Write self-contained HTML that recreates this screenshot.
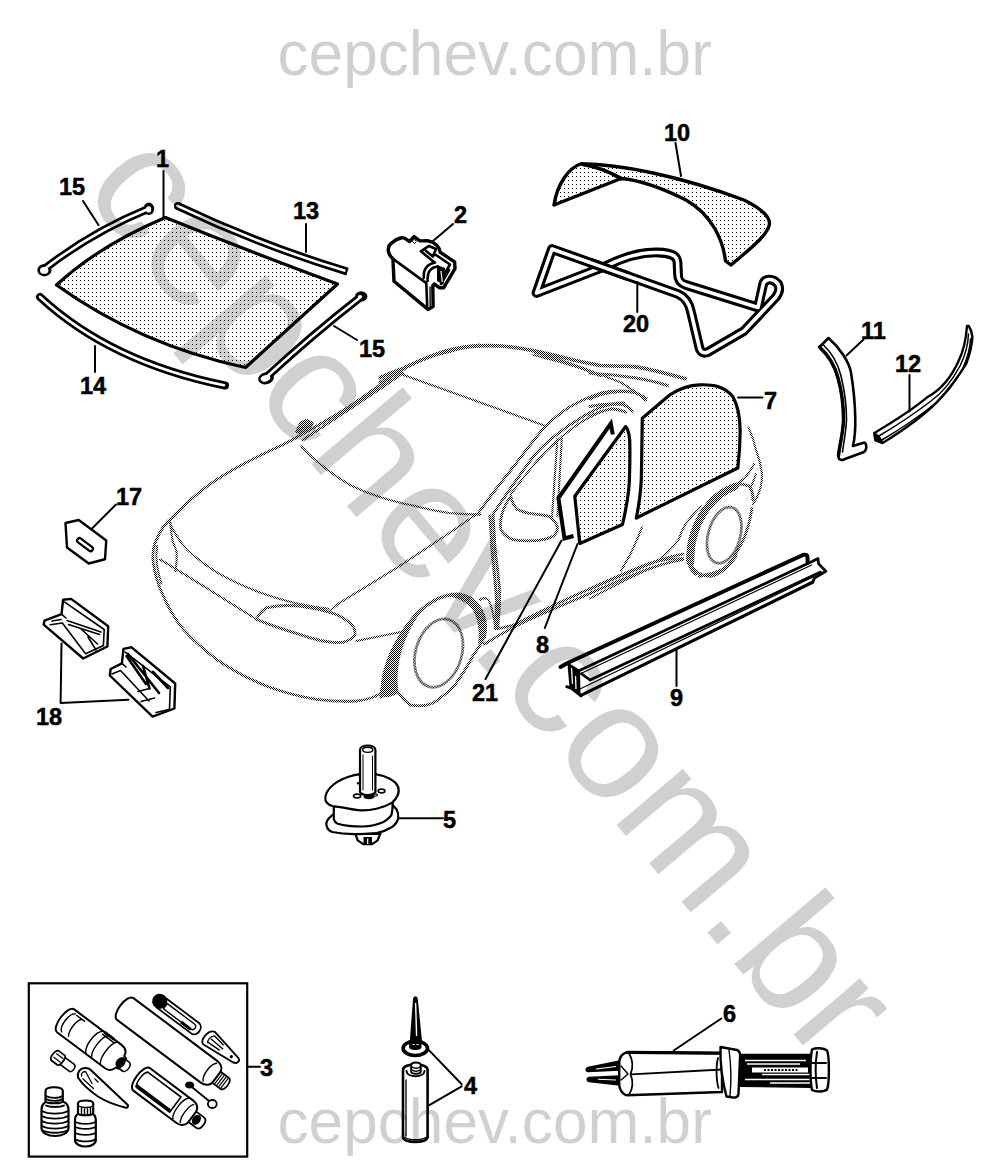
<!DOCTYPE html>
<html><head><meta charset="utf-8"><title>cepchev.com.br</title>
<style>
html,body{margin:0;padding:0;background:#fff;}
body{width:992px;height:1172px;overflow:hidden;position:relative;}
svg{position:absolute;left:0;top:0;display:block;}
.wm{font-family:"Liberation Sans",Arial,sans-serif;fill:#000;fill-opacity:0.184;}
.lb{font-family:"Liberation Sans",Arial,sans-serif;font-weight:bold;font-size:23.5px;fill:#000;stroke:#000;stroke-width:0.5px;}
.k{fill:none;stroke:#000;stroke-linecap:round;stroke-linejoin:round;}
.k.bt{stroke-linecap:butt;}.k.mt{stroke-linejoin:miter;}.k.w{stroke:#fff;}
.g{fill:none;stroke:url(#chk);stroke-width:2.8;stroke-linecap:round;stroke-linejoin:round;}
</style></head><body>
<svg width="992" height="1172" viewBox="0 0 992 1172">
<defs>
<pattern id="dots" width="4" height="4" patternUnits="userSpaceOnUse"><rect x="0" y="0" width="4" height="4" fill="#fff"/><rect x="0" y="0" width="1" height="1" fill="#000"/></pattern>
<pattern id="chk" width="2" height="2" patternUnits="userSpaceOnUse"><rect x="0" y="0" width="1" height="1" fill="#000"/><rect x="1" y="1" width="1" height="1" fill="#000"/></pattern>
</defs>
<!-- PARTS -->
<g id="parts">
<g id="car" class="g">
<!-- front -->
<path d="M155 543 C160 530 166 522 173.3 516.3 C186 503 200 491 216.5 479.7 C238 466 260 455 283 444.8 C305 433 328 420 349.6 406.5 C366 395 383 383 399.5 371.6 C415 362 432 355 449.4 351.6 C460 348 470 346 480 345"/>
<path d="M303 439.8 C336 418 370 396 402.8 373.2"/>
<path d="M296 432 L300 423 L306 419.5 L313 422.5 L309 430 L302 434 Z" fill="url(#chk)" stroke-width="1.82"/>
<path d="M301.4 446.4 C308 454 315 460 323 466.4 C331 473 340 479 349.6 484.7 C360 490 371 494.5 382.9 498 C394 501.5 405 504 416.1 506.3 C427 509 438 511.5 449.4 513 C460 514 470 514.5 480 514.6" stroke-width="2.09"/>
<path d="M402.2 374.4 L544.1 425.4" stroke-width="2.09"/>
<path d="M477 514 C468 520 458 527 449.4 533 C433 544 416 555 399.5 566.2 C380 578 359 591 339.6 602.8 L329.6 611" stroke-width="2.09"/>
<path d="M155 543 C152.5 550 152.5 556 153.3 562.9 C155 575 158.5 586 163.3 596 C168.5 608 175 619 183.3 629.4 C193 640 204 650 216.5 659.3 C232 670 249 679 266.4 686 C282 692 299 696.5 316.3 699.3 C330 701 343 701.7 356.3 701 C366 700 375 697.5 381 693"/>
<path d="M169 521 C174 533 180 542 187.2 549.8 C197 559 208 567 218.6 573.4 C231 580.5 244 586.5 258 591.7 C271 596.5 284 600.5 297.3 603.5 C308 605.8 318 607.5 328.7 608.8" stroke-width="2.10"/>
<path d="M160 559.5 C178 570 200 584 218.6 595.7 C232 604 245 612 256.5 619.4" stroke-width="2.10"/>
<path d="M170.1 519.7 C170.5 528 171.5 535 172.8 541.9 C174.5 546 176 549 176.7 552.4 C177 559 176.5 565 175.4 570.8 M157 546 C155.5 556 157 570 161.5 584" stroke-width="2.10"/>
<path d="M256.5 619.4 C259 614 262 610.5 266.4 607.8 C277 605.5 288 605 299.7 606 C312 607.5 325 610.5 336.3 614.4 C343 617.5 349 621.5 352.9 626 C355 629.5 355.5 633 354.6 636 C350 640.5 344 643 336.3 642.7 C324 642 311 638.5 299.7 634.4 C285 630 270 625 256.5 619.4 Z"/>
<path d="M356.3 641 L401 632" stroke-width="2.09"/>
<!-- front wheel -->
<path d="M381 697 C382 688 383 680 384.4 673 C387 663 390.5 653 395.5 644.2 C401 633.5 407.5 624 415.4 615.4 C422 608.5 429.5 603 437.6 598.8 C445 595.5 452.5 594 459.8 594.3 C467.5 595.5 473.5 599 477.5 604.3 C482 610.5 484.5 617 485.3 624.3 C485.8 629 485.2 633.5 484.2 637.6" stroke-width="3.28"/>
<path d="M381 697 C382 680 388 658 397 642 C405 627 414 616 424 608 C416 618 409 630 404 644 C398 660 396 678 398.8 693 C394 696 388 698 381 697 Z" fill="url(#chk)" stroke="none"/>
<path d="M445 596 C455 593.5 468 595 476 603 C483 611 486 622 484.5 637 L478 645 C480 630 478 618 472 609 C466 601 456 597 445 596 Z" fill="url(#chk)" stroke="none"/>
<path d="M398.8 693 C402 698 406 702.5 411 705.2 C418 706.5 426 706 433.2 703 C441 698 449 691.5 455.4 684.2 C462 675 468 665.5 473.1 655.3 C477.5 650 481 643.5 484.2 637.6"/>
<ellipse cx="438.7" cy="653.1" rx="23" ry="35" transform="rotate(17 438.7 653.1)"/>
<!-- door / pillars -->
<path d="M477.6 514.1 C489 498 501 482 513 467.5 C523 454 533 441 544.1 427.6 C552 420 560 413 568.5 407.6 C578 402 589 397 600 393.2 C610 391 620 390.5 629.7 391.5 C637 393 642 395.5 646.3 398.2"/>
<path d="M493.1 514.1 C507 493 521 473 535.2 454.2 C542 447 549 440 557.4 434.2 C564 428.5 572 423 579.6 418.7 C586 414.5 593 411 600 407.6 C608 404.5 616 403 624 403"/>
<path d="M510.8 494.1 C519 483 527 473 535.2 463.1 C542 455 549.5 447.5 557.4 440.9 C564 434.5 572 428.5 579.6 423.1 C586 419 593 415.5 600 412" stroke-width="2.09"/>
<path d="M557.4 438.7 L551.9 518.5 M561.9 436.5 L557.4 516.3" stroke-width="2.09"/>
<path d="M510.8 496.3 C512 502 514 506.5 517.5 509.6 C523 512.5 529 513.5 535.2 514.1 C540 514.5 544.5 515 548.6 516.3 C553 519 556.5 523 557.4 527.4 C557.5 531 556 534 553 536.3 C548 539 542 540.3 535.2 540.7 C528 541 520 541 513.1 539.6 C507 537.5 503 534 500.9 529.6 C500 524 500.5 519 502 514.1 C504 507 507 501 510.8 496.3 Z"/>
<path d="M493.1 514.1 C494 527 494.5 540 495.3 551.8 C497 564 498.5 577 499.7 589.9 C500 603 499 616 497.5 628.7" />
<path d="M490 516 C491 540 493 565 496 590 C497 603 496.5 616 495.3 628.7" stroke-width="3.09"/>
<path d="M479.8 599.9 C483 597.5 486 597.5 488.6 599.9 C490.5 604 492 608.5 493 613.2 C494 618 494.8 623 495.3 628.7" stroke-width="2.09"/>
<!-- sill -->
<path d="M484.2 644.2 C494 638 504.5 632 515.2 626.5 C526 621 537 616 548.5 611 C559 606.5 569.5 602 580 597.7 C600 589 620 580 640 572 C655 566 670 562 683 559.5"/>
<path d="M497.5 628.7 C503 628 509 626.5 515.2 624.3 C524 620 533 615.5 541.9 611 C554 605 567 599 580 593.2 C600 584 622 574 645 565 C658 560 670 556.5 683 554"/>
<!-- roof -->
<path d="M380 377.7 C387 374.5 394.5 371.5 402.2 368.8 C413 363.5 424 358.5 435.4 354.4 C446 350.5 457 348 468.7 346.6 C480 345.5 491 345.3 502 346 C513 347 524 348.7 535.2 351.1 C546 353.3 557 355.8 568.5 358.8 C579 361.5 590 363.5 600 365.5 C612 366 623 366.3 634.4 366.6 C652 369.5 669 374 685.4 378.8" stroke-width="3.64"/>
<path d="M380 382.1 C387 378.5 394 375 401 372" stroke-width="3.09"/>
<path d="M535.2 352.2 C546 355.5 557 359 568.5 363.3 C579 367 590 371 600 375.5 M590 373.3 C605 374 620 375.5 634.4 377.7 C646 379.5 657 382 667.6 385.5" stroke-width="3.09"/>
<path d="M590 398.8 C597 395.5 604.5 393.5 612.2 392.1 C620 391.3 627 391.3 634.4 392.1 C639 394 642.5 396.5 645.4 399.9 M590 406.5 C600 404 612 403.5 623 404.5 C627 406 630 408 632 411 M590 416.5 C597 412.5 605 410 612 408.7 C617 409.5 622 410.5 625.5 412" stroke-width="3.09"/>
<path d="M533.5 355 C565 363 595 372 621 382.5 L634 391" stroke-width="2.24"/>
<!-- rear -->
<path d="M642.1 527.4 C639 535 635.5 543 632.1 550.7 C628.5 557.5 625 564 621 570.6" stroke-width="2.09"/>
<path d="M700.9 506.3 C695 512 690 518 685.4 524.1 C682.5 529 680.5 534 678.7 539.6 C672 548 665 555 656.5 561.8" stroke-width="2.09"/>
<path d="M590 589.5 C612 580 634 570.5 656.5 561.8 C665 559.5 674 558.5 683.1 558.4 M590 598.4 C608 589 626 579.5 645.4 570.6 L663.2 564" stroke-width="2.09"/>
<path d="M687.6 559.6 C688 552.5 688.5 546 689.8 539.6 C692.5 530 696 521 700.9 513 C706 505 712 498.5 718.6 493 C724 489 730 486 736.4 484.2 C741 483.5 745.5 484.5 749.7 486.4 C752 490 753 494.5 753 499.7" stroke-width="3.09"/>
<path d="M690.5 562 C690 546 694.5 528 702.5 514.5 C710 502 721 492 735 486.5" stroke="url(#chk)" stroke-width="7.70" fill="none"/><path d="M689 560 C690 566 692 570 696 573" stroke="url(#chk)" stroke-width="4.90" fill="none"/>
<path d="M687.6 559.6 C689 564 691.5 568 694.2 570.6 C699.5 574.5 705.5 576.5 712 576.2 C718 574.5 723 571 727.5 566.2 C734.5 557 740.5 546.5 745.2 535.2 C748.5 526.5 750.5 517.5 751.9 508.6"/>
<ellipse cx="724.2" cy="535.2" rx="16" ry="28.8" transform="rotate(15.6 724.2 535.2)"/>
<path d="M748.6 427.6 C752 435 754.5 443 756.3 450.9 C759 458 761 465.5 761.9 473 C762.2 477.5 761.8 482 760.8 486.4 C759 493 756.5 499 753 504.1" stroke-width="2.09"/>
<path d="M754.1 464.2 C751.5 469 748.5 473.5 745.2 477.5 C742.5 480 739.5 482.3 736.4 484.2 M756 474 C754 480 752 485 749.7 489" stroke-width="2.09"/>
<path d="M699.5 576.2 C707 575 715 573 722.8 569.5 C728 566 732.5 561.5 736 556.2" stroke-width="3.09"/>
</g>
<g id="p1">
<!-- windshield 1 -->
<path d="M56.5 285 Q100 245 165.5 217.5 Q250.5 252 337.5 284 L245.5 367.5 Q140 345 56.5 285Z" fill="url(#dots)" stroke="#000" stroke-width="3.2" stroke-linejoin="round"/>
<!-- strip 15 left -->
<path class="k" d="M45 268.5 Q92 232 148 209" stroke-width="8"/>
<ellipse cx="44.4" cy="270.2" rx="7" ry="6.2" fill="#000"/><ellipse cx="148.8" cy="208.8" rx="5.4" ry="6.2" fill="#000"/>
<path class="k w" d="M45 268.5 Q92 232 148 209" stroke-width="2.6"/>
<ellipse cx="44.2" cy="270.4" rx="4.2" ry="3.4" fill="#fff"/><ellipse cx="148.6" cy="209.4" rx="2.6" ry="3.2" fill="#fff"/>
<!-- strip 13 -->
<path class="k bt" d="M177.5 205.8 Q260 245 347.5 271.6" stroke-width="8"/><circle cx="178" cy="206" r="4" fill="#000"/>
<path class="k w" d="M177.5 205.8 Q260 245 344.3 270.6" stroke-width="2.6"/>
<!-- strip 14 -->
<path class="k" d="M40 297 Q110 362 225 385.5" stroke-width="8"/>
<path class="k w" d="M40 297 Q110 362 224 385.3" stroke-width="2.6"/>
<!-- strip 15 right -->
<path class="k" d="M360 297.5 Q312 335 266.5 377" stroke-width="8"/>
<ellipse cx="361.2" cy="296.4" rx="6.2" ry="5.2" fill="#000"/><ellipse cx="266" cy="378.3" rx="8" ry="6" transform="rotate(-15 266 378.3)" fill="#000"/>
<path class="k w" d="M359.5 298 Q312 335 266.5 377" stroke-width="2.4"/>
<ellipse cx="360" cy="296.8" rx="2.2" ry="1.8" fill="#fff"/><ellipse cx="265.5" cy="378.3" rx="5" ry="3.2" transform="rotate(-15 265.5 378.3)" fill="#fff"/>
<!-- leaders -->
<path class="k" stroke-width="2" d="M163.5 171V217 M83 201L98.5 225 M306 224V252 M334 326L357 340 M95 346V372 M453 224L433 241"/>
</g>
<g id="p2">
<!-- clip 2 -->
<path d="M428 309.4 L394 281.3 L392.9 258.6 C387 254 386.5 246 392.7 242.2 C395 240 398 238.3 401.8 237.7 L404.5 238.2 L409.5 241.5 L414 236.6 L420 240.9 L428 240.8 C436 242.5 440.2 248 440 252.2 L454.6 261.8 L455 268.6 L443.6 287.8 L439.6 287.8 L434.2 284 L432.8 285.6 L433.1 306.6 Z" fill="#fff" stroke="#000" stroke-width="3.4" stroke-linejoin="round"/>
<path class="k" stroke-width="2.6" d="M392.7 258.6 L426.3 283.1 L427.2 306 M423.8 278 C423 268 428 264 435 262.5 M427.6 281 C427 272 431 267 438 266.5 M429 245.9 L420.8 251.3 L434.4 262.2 M426 251 L433 256.5 L436 249 L429 246 M436 255 L450 264.5 L442 278 M449 270 L441 284"/>
<path class="k" stroke-width="1.4" d="M430 287 L430.2 306"/>
<path d="M437 265 L445 268 L443.5 285 L437 281 Z" fill="#000"/>
<path d="M441 271 L442.3 282" stroke="#fff" stroke-width="1.2" fill="none"/>
<path d="M414 239.2 L416.4 241.6 L414.5 243.6 L412.2 241.3 Z" fill="#fff" stroke="#000" stroke-width="1"/>
</g>
<g id="p10">
<!-- rear glass 10 -->
<path d="M554 205 C557 185 568 168 581 163.75 C620 164 680 176 744 200 C760 208 770 216 769.5 224 C768 234 755 245 731 265 L725.5 261 C723 240 712 215 686 200 C660 187 640 180 621 178.5 Z" fill="url(#dots)" stroke="#000" stroke-width="3.4" stroke-linejoin="round"/>
<path class="k" stroke-width="3.8" d="M583 164.5 C598 167 610 172 621 178.5"/>
<!-- seal 20 -->
<path id="seal" class="k" stroke-width="9.8" d="M552 249 L536.5 293 L606 266 C620 259 640 252 658 252.5 C672 253 677 256 677.5 262 L678 274 C678 280 680 283 686 285 L758 307.5 L763 285 C764 279 772 277 778 284 C780 288 779 293 776 297 L744 331 L708 352 C703 354 700 352 699 346 L691 312 C689 302 685 297 678 294 Z"/>
<path class="k w" stroke-width="3.6" d="M552 249 L536.5 293 L606 266 C620 259 640 252 658 252.5 C672 253 677 256 677.5 262 L678 274 C678 280 680 283 686 285 L758 307.5 L763 285 C764 279 772 277 778 284 C780 288 779 293 776 297 L744 331 L708 352 C703 354 700 352 699 346 L691 312 C689 302 685 297 678 294 Z"/>
<path class="k bt" stroke-width="9.8" d="M590 262.6 L628 276.2"/>
<path class="k bt w" stroke-width="3.6" d="M588 261.9 L630 276.9"/>
<path class="k" stroke-width="2" d="M675.5 143 L681 176 M637.3 282 V312"/>
</g>
<g id="p11">
<path d="M819.5 347 C828 355 835 366 838 378 C842 392 843.5 405 843.5 420 C843 435 839 447 838.5 456 C838.5 459 840 460.5 843 459.8 L864 452 C867 450 867 444 864.5 442.5 L853 446 C855 437 855.5 428 855.25 418 C855 400 853 385 851 372.5 C849 362 840 348 828.5 338 Z" fill="#fff" stroke="#000" stroke-width="2.6" stroke-linejoin="round"/>
<path class="k" stroke-width="3.4" d="M819.5 347 C828 355 835 366 838 378 C842 392 843.5 405 843.5 420 C843 435 839 447 838.5 456"/>
<path class="k" stroke-width="1.6" d="M823 344.5 C831 352 838 364 841 376 C845 392 846.5 405 846.5 420 C846 432 843.5 444 842.5 452"/>
<!-- 12 -->
<path d="M967 326 C966 340 963 352 958.8 360.4 C951 378 940 390 928 396.7 C912 410 893 422 874.4 433 L875.3 440.2 L882.6 443 C902 431 921 418 937 402.1 C950 388 960 374 966.1 364 C970 354 972 345 972.4 336.8 C972 332 970.5 328.5 968.8 326 Z" fill="#fff" stroke="#000" stroke-width="2.4" stroke-linejoin="round"/>
<path class="k" stroke-width="1.5" d="M968.5 334 C968 346 964 358 960 366 C952 381 942 393 931 401 C914 414 896 426 878 436.5 M970.5 339 C970 349 967 359 963 368 C955 383 945 396 934 404.5 C917 418 899 430 881 440.5"/>
<path d="M874.4 433 L875.3 440.2 L882.6 443 L879.5 437.5 Z" fill="#000" stroke="#000" stroke-width="2" stroke-linejoin="round"/>
<path class="k" stroke-width="2" d="M863.5 339.5 L846.5 355.5 M909.5 375 V411.5"/>
</g>
<g id="p7">
<path d="M642.3 418.2 L669.6 395 C680 388 690 385 699.5 384.8 C708 384.5 713 385 717.8 386.6 C725 389 729 392 732.8 396.5 C738 406 740 418 740.1 430 C740.2 445 739 458 737.8 468 L636.3 518 C640 500 641.5 485 641.5 470 Z" fill="url(#dots)" stroke="#000" stroke-width="3.2" stroke-linejoin="round"/>
<path d="M625.7 426.5 L574.8 496.3 L579.8 543.5 L622.5 524.5 C627 505 629.5 490 629.5 476 C630 460 630 450 629.7 440 C629 433 628 429 625.7 426.5 Z" fill="url(#dots)" stroke="#000" stroke-width="3.2" stroke-linejoin="round"/>
<path class="k bt mt" stroke-width="4" d="M612.8 434.5 L610.8 423.5 L558.4 498 L564.5 538.5 L573.5 536"/>
<path class="k" stroke-width="2" d="M738 397.5 H762.5 M577.5 544 L544.8 628 M561.5 540.5 L485.5 679 M676.5 648 V686"/>
</g>
<g id="p9">
<path d="M568 662.7 L803 555 L807.6 556 V562.5 L812.6 561.3 L818 558.6 L818.5 563.6 L825.8 571.3 L814.4 578.1 L812.6 582.2 L580.9 695.6 L570 687 Z" fill="#fff" stroke="none"/>
<path class="k" stroke-width="4" stroke-linejoin="round" d="M560.5 667 L568 662.7 L803 555 Q807.5 553.5 807.6 558 V562.5"/>
<path class="k" stroke-width="2.8" d="M579.5 670.5 L812.6 561.3 L818 558.6 L818.5 563.6 L825.8 571.3 L814.4 578.1 L812.6 582.2"/>
<path class="k" stroke-width="1.2" d="M581.5 673.2 L811.7 565"/>
<path class="k" stroke-width="2.6" d="M581.3 673.6 L590 680 L820.5 572"/>
<path class="k" stroke-width="1.2" d="M580 689 L814 576.5"/>
<path class="k" stroke-width="3.2" d="M580.9 695.4 L812.6 582.2"/>
<path d="M568.5 664 L579 670.5 L579.5 694.5 L570.5 687.5 Z" fill="#000" stroke="#000" stroke-width="2" stroke-linejoin="round"/>
<path class="k" stroke-width="3" d="M566.8 686.7 L572 688.5 L581 695.8"/>
<path d="M571.5 668 L572.5 684 M575.5 676 L576 689" stroke="#fff" stroke-width="1.3" fill="none"/>
</g>
<g id="p17">
<path d="M65.5 523 L78.75 520 L106.25 540.5 L105 559.25 L88.75 563.5 L67 547.5 Z" fill="#fff" stroke="#000" stroke-width="2.4" stroke-linejoin="round"/>
<path class="k" stroke-width="7" d="M79.5 540.5 L90.5 548.8"/>
<path class="k w" stroke-width="2.6" d="M79.5 540.5 L90.5 548.8"/>
<path class="k" stroke-width="2" d="M116 504.5 L92.5 528"/>
</g>
<g id="p18">
<path d="M63.1 599.7 L71.1 598.9 L108.2 626.3 L107.4 646.5 L83.2 658.5 L43.7 624.7 L44.5 620.6 L61.5 614.2 Z" fill="#fff" stroke="#000" stroke-width="2.4" stroke-linejoin="round"/>
<path class="k" stroke-width="1.6" d="M64.7 602.1 L104.2 629.5 L103.4 645.6 M61.5 614.2 L66 618 M50.2 624.7 L62.3 623 L85.6 653.7 L103.4 645.6 M67 620.5 L101 632 M68.5 624.5 L99.5 634.5 M80 628 L97.5 644 M88 637 L96 650 M52 621 L61 619.5"/>
<path d="M123.5 648.9 L131.6 647.3 L175.2 683.5 L174.4 708.5 L152.6 716.6 L109.8 675.5 L110.6 669 L121.9 663.4 Z" fill="#fff" stroke="#000" stroke-width="2.4" stroke-linejoin="round"/>
<path class="k" stroke-width="1.6" d="M125.2 652.1 L170.3 686.8 L169.5 709.4 M112 674 L120.5 670.5 L149 701 M138 691.5 L149.5 688.5 M141 701.5 L154.5 698 M156 712.5 L169 709.5 M121.9 663.4 L126 667"/>
<path class="k" stroke-width="2.6" d="M128 654 L159 693 M143 666 L149.5 688.5 M126.5 656 L146 684 M153 672 L168 688"/>
<path class="k" stroke-width="2" d="M61.5 643.5 L60.6 703 L128.4 699.7"/>
</g>
<g id="p5">
<path d="M333.3 814.3 L328.9 818.2 C326.5 821 326 824 326.6 825.9 C327.5 829 329 831 332.2 832 C340 833.5 347 834 354.4 834.2 C362 834.4 370 834 376.5 833.1 C382 832 388 829.5 392.1 827 C395.5 824.5 397.5 821.5 398.2 818.2 C398.6 815 398 812 396.5 809.3 L392.6 804.9 Z" fill="#fff" stroke="#000" stroke-width="2.2" stroke-linejoin="round"/>
<path d="M355.5 834.2 L357.7 840.3 L363.2 844.2 L372.1 844.2 L377.6 840.3 L380.4 833.7 Z" fill="#fff" stroke="#000" stroke-width="2.2" stroke-linejoin="round"/>
<path d="M363.5 837 H372 V844 H363.5 Z" fill="#000"/><path d="M367.7 838.5 V844" stroke="#fff" stroke-width="1.2"/>
<path d="M333.8 806.5 V819.3 C334.5 822 336 823 337.7 823.7 C346 826 355 826.6 363.2 826.5 C370 826.3 377 825 382.1 822.6 C386 820.5 389.5 818 391.5 814.8 C392.5 811 392.7 807 392.6 802.6 Z" fill="#fff" stroke="#000" stroke-width="2.2" stroke-linejoin="round"/>
<path d="M325.5 800.4 C325 797 325.5 795 326.6 792.7 C329 788 333 784.5 337.7 781.6 C344 778 351 775.5 358.8 774.4 L376.5 774.4 C381.5 775.2 386 776.8 389.8 778.8 C394 781 397 784 398.2 787.1 C399 790 398.8 793 397.6 795.4 C396.5 798.5 394.5 800.5 392.1 802.6 C387.5 805.5 382 807.5 376.5 808.7 C372 809.8 367 810.4 362.1 810.4 C355.5 810 349 808.8 343.3 807.6 L332.2 806 C329 805 326.5 803 325.5 800.4 Z" fill="#fff" stroke="#000" stroke-width="2.2" stroke-linejoin="round"/>
<ellipse cx="357.1" cy="796" rx="3.6" ry="1.9" fill="#fff" stroke="#000" stroke-width="1.6"/>
<ellipse cx="381.5" cy="791" rx="3.4" ry="1.9" fill="#fff" stroke="#000" stroke-width="1.6"/>
<ellipse cx="369" cy="796.8" rx="5.5" ry="2.4" fill="#000"/>
<ellipse cx="375.5" cy="795" rx="2" ry="1.2" fill="#fff" stroke="#000" stroke-width="1.2"/>
<path d="M356.8 783.3 h2.4" stroke="#000" stroke-width="2"/>
<path d="M360 750 V792 C362 796 373 796 375.4 792 V750 C375.4 744 360 744 360 750 Z" fill="#fff" stroke="#000" stroke-width="2.2" stroke-linejoin="round"/>
<ellipse cx="367.7" cy="749.8" rx="5" ry="2.6" fill="#fff" stroke="#000" stroke-width="1.4"/>
<path class="k" stroke-width="1" d="M363 755 V790 M372.5 756 V790"/>
<path class="k" stroke-width="2" d="M398.5 818.3 H443"/>
</g>
<g id="p3">
<rect x="28.8" y="983.3" width="218.4" height="173.3" fill="none" stroke="#000" stroke-width="2.2"/>
<path class="k" stroke-width="2" d="M247.2 1066.8 H260"/>
<g transform="matrix(0.8,0.6,-0.6,0.8,0,0)" fill="#fff" stroke="#000" stroke-width="2" stroke-linejoin="round">
<g transform="translate(3,0.3)"><!-- cartridge 1 -->
<path d="M662 762.7 H722 C727 763 729.5 766 730 770 L733 771 V783.5 L730 784.5 C729.5 788 727 791 722 791.3 H662 C654 791 654 763 662 762.7 Z"/>
<path fill="none" stroke-width="1.4" d="M666 765.5 C660 768 660 786 666 788.5 M674 766 C670 770 670 784 674 788 M667 766 H678 M698 763 C692 768 692 786 698 791 M705 763 C700 768 700 786 705 791 M716 763 C711 768 711 786 716 791 M699 765.5 H714"/>
<path d="M733 772 H738 C742 773 742 782 738 783 H733 Z" stroke-width="1.6"/>
<ellipse cx="731" cy="777.5" rx="3.5" ry="5" fill="#000"/>
<path d="M700 762.7 H712" stroke-width="3"/>
</g><g transform="translate(2.6,0.4)"><!-- long tube -->
<path d="M703 718 H808 C814 718.5 817 722 817 726 V737 C817 741 814 745 808 745.3 H703 C695 745 695 718.5 703 718 Z"/>
<path fill="none" stroke-width="1.4" d="M809 720 C804 724 804 739 809 743"/>
<path d="M817 724.5 H827 C832 725 832 738 827 738.5 H817 Z" stroke-width="1.8"/>
<path fill="none" stroke-width="1.2" d="M819.5 725 V738 M822 725 V738 M824.5 725 V738 M827 725.5 V738"/>
</g><!-- cartridge 2 -->
<path d="M761 764.5 H815 C821 765 823.5 768 824 772 V785 C823.5 789 821 792 815 792.5 H761 C753 792 753 765 761 764.5 Z"/>
<path d="M761.5 769 H803 V788 H761.5 C758 785 758 772 761.5 769 Z" stroke-width="1.6"/>
<path d="M760 786.5 H803" stroke-width="3.2" fill="none"/>
<path fill="none" stroke-width="1.4" d="M810 765 C805 770 805 787 810 792 M818 767 C814 771 814 786 818 790"/>
<path d="M824 771.5 H834 C839 772 839 784 834 784.5 H824 Z" stroke-width="1.8"/>
<ellipse cx="829" cy="778" rx="3" ry="4.5" fill="#000"/>
<!-- pen c -->
<path d="M730 699 H773 C780 699.5 780 711.5 773 712 H730 Z" stroke-width="1.8"/>
<path d="M736 702.5 H770 C774 703 774 708.5 770 709 H736 Z" stroke-width="1.4"/>
<path d="M758 709 H770" stroke-width="3" fill="none"/>
<circle cx="728.5" cy="705.2" r="6.6" fill="#000"/>
<!-- nozzle d -->
<path d="M791 696.5 C784 699 784 712 789 713.5 L824 710 C828.5 709 828.5 704.5 826 703.5 Z" stroke-width="1.8"/>
<path fill="none" stroke-width="1.3" d="M793 700 L806 702 M792 704.5 L808 705.5 M792 709 L806 708.5 M793 700 C790 703 790 708 792 710"/>
<circle cx="819" cy="706.5" r="1.6" fill="#000" stroke="none"/>
<!-- bolt g -->
<path d="M686 807 H698 C701.5 807.5 701.5 815 698 815.5 H686 Z" stroke-width="1.6"/>
<path d="M677 805.5 H685 C688 806 688 817 685 817.5 H677 C674 816 674 807 677 805.5 Z" stroke-width="1.8"/>
<path fill="none" stroke-width="1.2" d="M677 809 H686 M677 813.5 H686"/>
</g>
<!-- cone h -->
<path d="M78 1077.5 C77 1072 80 1068.5 84.5 1068 C87.5 1067.8 89.5 1068.5 90.8 1070 L127.8 1105 C128.5 1106.5 127.5 1108 126 1107.7 C115 1105 105 1101 98 1096.5 C90 1091 82 1084 78 1077.5 Z" fill="#fff" stroke="#000" stroke-width="2" stroke-linejoin="round"/>
<path class="k" stroke-width="1.3" d="M81.5 1076 C81 1073 83 1071.5 85.5 1071.5 L92 1083.5 M83 1079 L93.5 1088.5 M95 1079 L98 1082"/>
<!-- swab f -->
<path class="k" stroke-width="1.8" d="M190 1085.5 L209 1101"/>
<ellipse cx="189.6" cy="1085" rx="4.6" ry="3.6" fill="#000"/>
<ellipse cx="212.3" cy="1104" rx="4.4" ry="4" fill="#fff" stroke="#000" stroke-width="1.8"/>
<!-- bottle 1 -->
<path d="M41.5 1110 C41.5 1105 44 1102.5 47 1101.5 H62.5 C66 1102.5 68.5 1105 68.5 1110 V1128 C68.5 1133 62 1136 55 1136 C48 1136 41.5 1133 41.5 1128 Z" fill="#fff" stroke="#000" stroke-width="2.2" stroke-linejoin="round"/>
<path class="k" stroke-width="1.8" d="M42 1111 C48 1114.5 62 1114.5 68 1111 M42 1116 C48 1119.5 62 1119.5 68 1116 M42 1121 C48 1124.5 62 1124.5 68 1121 M42 1126 C48 1129.5 62 1129.5 68 1126 M43 1130.5 C49 1133.5 61 1133.5 67 1130.5 M46 1105.5 C50 1107.5 60 1107.5 64 1105.5"/>
<path d="M45.5 1091 C45.5 1086 62.8 1086 62.8 1091 V1101 C62.8 1104 45.5 1104 45.5 1101 Z" fill="#fff" stroke="#000" stroke-width="2.2" stroke-linejoin="round"/>
<path class="k" stroke-width="1.6" d="M46 1096 C50 1098.5 59 1098.5 62.5 1096 M46 1099 C50 1101.5 59 1101.5 62.5 1099"/>
<!-- bottle 2 -->
<path d="M75 1120 C75 1116.5 76.5 1114.5 79 1113.5 H92 C94.5 1114.5 95.8 1116.5 95.8 1120 V1140 C95.8 1144 91 1146.5 85.4 1146.5 C80 1146.5 75 1144 75 1140 Z" fill="#fff" stroke="#000" stroke-width="2.2" stroke-linejoin="round"/>
<path class="k" stroke-width="1.8" d="M75.5 1122 C80 1124.5 91 1124.5 95.5 1122 M75.5 1127 C80 1129.5 91 1129.5 95.5 1127 M75.5 1133 C80 1135.5 91 1135.5 95.5 1133 M76 1139.5 C80 1142 91 1142 95 1139.5"/>
<path d="M78 1103.5 C78 1099.5 93.2 1099.5 93.2 1103.5 V1113 C93.2 1116 78 1116 78 1113 Z" fill="#fff" stroke="#000" stroke-width="2.2" stroke-linejoin="round"/>
<path class="k" stroke-width="1.4" d="M78.5 1106 C82 1108 90 1108 93 1106 M81.5 1108 V1114.5 M84.5 1108.5 V1115 M87.5 1108.5 V1115 M90.5 1108 V1114.5"/>
</g>
<g id="p4">
<!-- tube -->
<path d="M403 1070 C403 1062.5 427.6 1062.5 427.6 1070 V1137 C427.6 1143.5 403 1143.5 403 1137 Z" fill="#fff" stroke="#000" stroke-width="2.6" stroke-linejoin="round"/>
<path class="k" stroke-width="2" d="M406.5 1071 C407 1078 424 1078 424.5 1071"/>
<path class="k" stroke-width="1.3" d="M406 1080 V1136 M405 1137.5 C409 1140.5 421 1140.5 425.5 1137.5"/>
<path d="M411.2 1065 C411.2 1061.5 420.7 1061.5 420.7 1065 V1071.5 C420.7 1074.5 411.2 1074.5 411.2 1071.5 Z" fill="#fff" stroke="#000" stroke-width="2" stroke-linejoin="round"/>
<path class="k" stroke-width="1.5" d="M412 1067 C414 1068.5 418 1068.5 420 1067 M412 1070 C414 1071.5 418 1071.5 420 1070"/>
<!-- washer + nozzle -->
<ellipse cx="415.3" cy="1048.3" rx="12.2" ry="7.2" fill="#fff" stroke="#000" stroke-width="3.6"/>
<path d="M409.8 1041 H420.8 V1047 C420.8 1050 409.8 1050 409.8 1047 Z" fill="#000" stroke="#000" stroke-width="1.4" stroke-linejoin="round"/>
<path d="M412.5 1044.5 h2.2 M416.5 1044.5 h2.2" stroke="#fff" stroke-width="1.2"/>
<path d="M410.6 1041 L413.8 999 C414 996.5 416.8 996.5 417 999 L421.2 1041 Z" fill="#000" stroke="#000" stroke-width="1.6" stroke-linejoin="round"/>
<path d="M415.6 1003 L416.6 1036" stroke="#fff" stroke-width="1.4"/>
<path class="k" stroke-width="2" d="M461.7 1084.3 L428.9 1050.1 M461.7 1086.3 L428.9 1105.4"/>
</g>
<g id="p6">
<!-- nozzle -->
<path d="M620 1061 L588 1067.5 C585.5 1068.5 585.5 1071 588 1071.5 L620 1070 Z" fill="#000" stroke="#000" stroke-width="1.6" stroke-linejoin="round"/>
<path d="M620 1076 L589 1077.5 C586.5 1078.3 586.5 1081 589 1081.5 L620 1085 Z" fill="#000" stroke="#000" stroke-width="1.6" stroke-linejoin="round"/>
<path d="M596 1069 L616 1066.5 M598 1079.3 L616 1080" stroke="#fff" stroke-width="1.1" fill="none"/>
<!-- body -->
<path d="M627 1052.3 L722 1053.3 V1092 L627 1095.3 C621 1094 619 1087 619.2 1083.5 L619.3 1061.2 C619.8 1057 622 1053.5 627 1052.3 Z" fill="#fff" stroke="#000" stroke-width="2.4" stroke-linejoin="round"/>
<path class="k" stroke-width="3.2" d="M627 1052.3 L720 1053.2"/>
<path class="k" stroke-width="1.8" d="M631 1074.3 L722 1069.5 M629 1053.5 C633 1060 633 1068 630.5 1074.3 C633.5 1081 633 1089 629 1094.5 M718 1058 C716 1065 716 1080 718.5 1088"/>
<path class="k" stroke-width="1.4" d="M621 1066 L628 1074 L621 1080"/>
<!-- flange -->
<path d="M720.5 1047 L737 1050 C740 1051 740.5 1054 740 1058 L738.5 1094 C738 1097 736 1098 733 1097.5 L726.5 1096.5 C722 1080 720 1064 720.5 1047 Z" fill="#fff" stroke="#000" stroke-width="2.4" stroke-linejoin="round"/>
<path class="k" stroke-width="1.4" d="M729 1050 C731 1064 731.5 1080 730 1096"/>
<!-- plunger -->
<path d="M740 1054.7 H812 V1087 L740 1086 Z" fill="#000" stroke="#000" stroke-width="2" stroke-linejoin="round"/>
<path d="M745 1060.5 H806 M747 1064 H800 M762 1074.5 H812 M745 1079.5 H810 M770 1083 H812" stroke="#fff" stroke-width="1.3" fill="none"/>
<path d="M752 1067.5 H808 V1072.5 H752 Z" fill="#fff" stroke="none"/>
<path d="M764 1070 H798" stroke="#000" stroke-width="2.2" stroke-dasharray="2 1.5" fill="none"/>
<path d="M812 1049.5 C816 1047.5 824 1048 827 1050.5 C829.5 1056 829.5 1084 827 1089.5 C824 1092 816 1092 812 1090 C810 1080 810 1060 812 1049.5 Z" fill="#fff" stroke="#000" stroke-width="2.4" stroke-linejoin="round"/>
<path class="k" stroke-width="2" d="M817 1052 C815.5 1062 815.5 1078 817 1088 M812 1063 H826 M812 1078 H826"/>
<path class="k" stroke-width="2" d="M721.3 1018.5 L673.7 1050.5"/>
</g>
</g>
<!-- LABELS -->
<g id="labels">
<text class="lb" x="156" y="167">1</text>
<text class="lb" x="59" y="195">15</text>
<text class="lb" x="293" y="219">13</text>
<text class="lb" x="454" y="223">2</text>
<text class="lb" x="359" y="357">15</text>
<text class="lb" x="80" y="394">14</text>
<text class="lb" x="664" y="141">10</text>
<text class="lb" x="623" y="332">20</text>
<text class="lb" x="861" y="339">11</text>
<text class="lb" x="895" y="371.5">12</text>
<text class="lb" x="764" y="409">7</text>
<text class="lb" x="116" y="505">17</text>
<text class="lb" x="36" y="725.3">18</text>
<text class="lb" x="472" y="701.2">21</text>
<text class="lb" x="536" y="653">8</text>
<text class="lb" x="670" y="706">9</text>
<text class="lb" x="443" y="827.5">5</text>
<text class="lb" x="260" y="1076">3</text>
<text class="lb" x="464" y="1094">4</text>
<text class="lb" x="723" y="1022">6</text>
</g>
<!-- WATERMARKS -->
<g id="wm">
<text class="wm" x="277.5" y="75.2" font-size="62.2">cepchev.com.br</text>
<text class="wm" x="277.5" y="1143" font-size="62.2">cepchev.com.br</text>
<text class="wm" font-size="164.5" transform="translate(80,190) rotate(49.8)">cepchev.com.br</text>
</g>
</svg>
</body></html>
